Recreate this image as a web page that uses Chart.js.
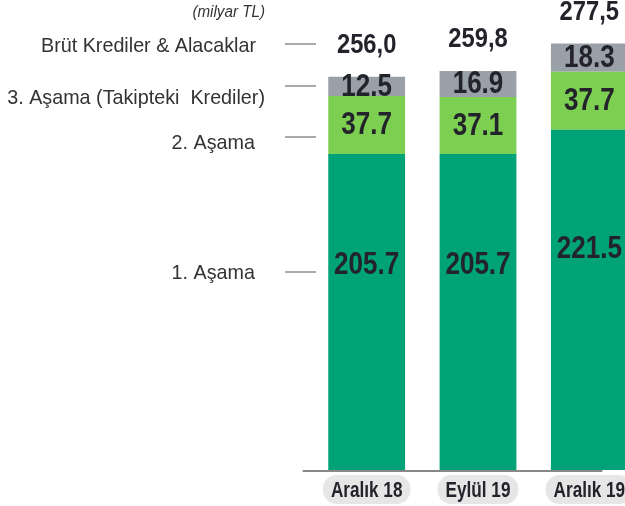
<!DOCTYPE html>
<html>
<head>
<meta charset="utf-8">
<script src="https://cdn.jsdelivr.net/npm/chart.js@4/dist/chart.umd.min.js"></script>
<style>
  html, body { margin: 0; padding: 0; background: #fff; overflow: hidden; }
  #wrap { width: 660px; height: 506px; position: relative; }
</style>
</head>
<body>
<div id="wrap"><canvas id="krediChart"></canvas></div>
<script>
const categories = ['Aralık 18', 'Eylül 19', 'Aralık 19'];
const asama1 = [205.7, 205.7, 221.5];
const asama2 = [37.7, 37.1, 37.7];
const asama3 = [12.5, 16.9, 18.3];
const toplam = [256.0, 259.8, 277.5];

const FONT = "'Liberation Sans', Arial, sans-serif";
const ctx = document.getElementById('krediChart').getContext('2d');

// dar yazı (Arial Narrow yok, yatay sıkıştırma ile)
function narrowText(c, text, x, y, sx) {
    c.save();
    c.translate(x, y);
    c.scale(sx, 1);
    c.fillText(text, 0, 0);
    c.restore();
}

const labelsPlugin = {
    id: 'labelsPlugin',
    afterDatasetsDraw(chart) {
        const c = chart.ctx;
        const x = chart.scales.x;
        c.save();

        // değerler
        c.fillStyle = '#23232b';
        c.font = 'bold 31px ' + FONT;
        c.textAlign = 'center';
        c.textBaseline = 'middle';
        chart.data.datasets.forEach((ds, di) => {
            const meta = chart.getDatasetMeta(di);
            meta.data.forEach((bar, i) => {
                let y = (bar.y + bar.base) / 2;
                if (di === 0) y = bar.y + (bar.base - bar.y) * 0.35;
                narrowText(c, ds.data[i].toFixed(1), bar.x, y + 1, 0.84);
            });
        });

        // toplamlar
        const topMeta = chart.getDatasetMeta(2);
        c.font = 'bold 27px ' + FONT;
        topMeta.data.forEach((bar, i) => {
            narrowText(c, toplam[i].toFixed(1).replace('.', ','), bar.x, bar.y - 31, 0.88);
        });

        // sol etiketler
        c.fillStyle = '#333';
        c.textAlign = 'right';
        c.font = 'italic 16px ' + FONT;
        narrowText(c, '(milyar TL)', 265, 13, 0.95);
        c.font = '21px ' + FONT;
        const left = [
            ['Brüt Krediler & Alacaklar', 256, 46],
            ['3. Aşama (Takipteki  Krediler)', 265, 98],
            ['2. Aşama', 255, 143],
            ['1. Aşama', 255, 273]
        ];
        left.forEach(l => narrowText(c, l[0], l[1], l[2], 0.94));
        c.strokeStyle = '#8c8c8c';
        c.lineWidth = 1.5;
        [44, 86, 137, 272].forEach(y => {
            c.beginPath();
            c.moveTo(285, y);
            c.lineTo(316, y);
            c.stroke();
        });

        // eksen çizgisi
        const base = chart.scales.y.getPixelForValue(0);
        c.strokeStyle = '#888';
        c.lineWidth = 2;
        c.beginPath();
        c.moveTo(x.getPixelForValue(0) - 64, base + 1);
        c.lineTo(x.getPixelForValue(2) + 13, base + 1);
        c.stroke();

        // alt etiketler (yuvarlak kutular)
        c.font = 'bold 22px ' + FONT;
        c.textAlign = 'center';
        categories.forEach((cat, i) => {
            const cx = x.getPixelForValue(i);
            const w = c.measureText(cat).width * 0.78 + 16;
            c.fillStyle = '#e6e6e6';
            c.beginPath();
            c.roundRect(cx - w / 2, base + 5, w, 29, 14);
            c.fill();
            c.fillStyle = '#23232b';
            narrowText(c, cat, cx, base + 21, 0.78);
        });
        c.restore();
    }
};

const krediChart = new Chart(ctx, {
    type: 'bar',
    data: {
        labels: categories,
        datasets: [
            { label: '1. Aşama', data: asama1, backgroundColor: '#00a377' },
            { label: '2. Aşama', data: asama2, backgroundColor: '#7dcf52' },
            { label: '3. Aşama', data: asama3, backgroundColor: '#9aa0a7' }
        ]
    },
    options: {
        responsive: true,
        maintainAspectRatio: false,
        animation: false,
        layout: { padding: { left: 311, right: 15, top: 9, bottom: 36 } },
        datasets: { bar: { categoryPercentage: 1, barPercentage: 0.69 } },
        scales: {
            x: { stacked: true, display: false },
            y: { stacked: true, display: false, min: 0, max: 300 }
        },
        plugins: {
            legend: { display: false },
            tooltip: { enabled: false }
        }
    },
    plugins: [labelsPlugin]
});
</script>
</body>
</html>
